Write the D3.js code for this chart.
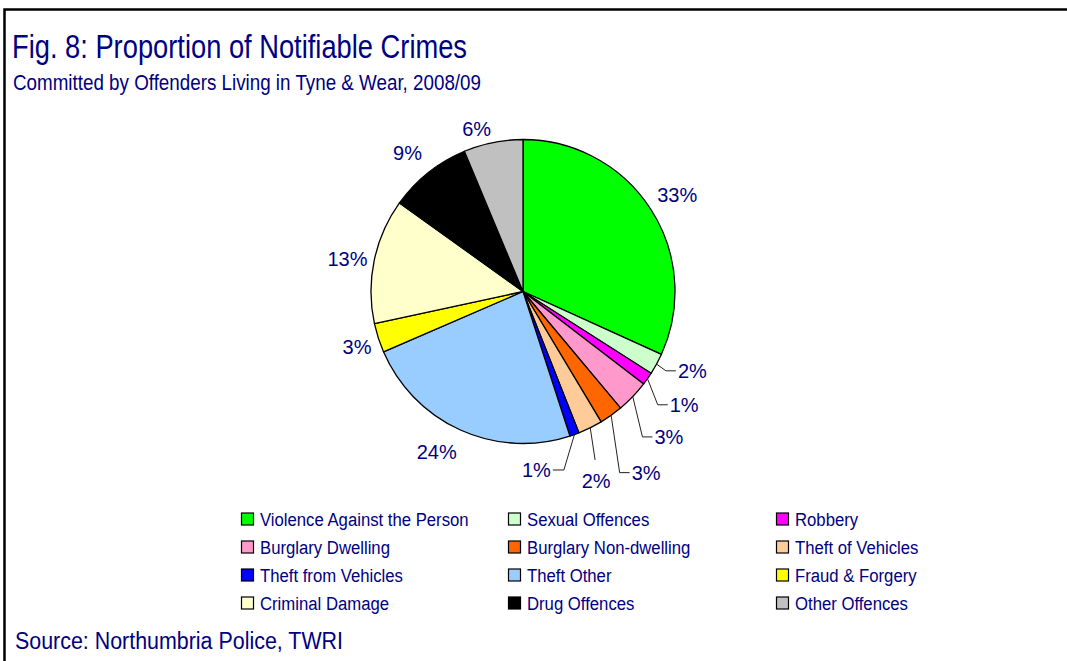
<!DOCTYPE html>
<html>
<head>
<meta charset="utf-8">
<script src="https://cdn.jsdelivr.net/npm/d3@7"></script>
<style>
  html, body { margin: 0; padding: 0; background: #fff; }
  svg { display: block; }
  text { font-family: "Liberation Sans", Arial, sans-serif; fill: #000080; }
</style>
</head>
<body>
<svg id="chart" width="1067" height="661"></svg>
<script>
// ---- Data ----
const categories = [
  "Violence Against the Person", "Sexual Offences", "Robbery",
  "Burglary Dwelling", "Burglary Non-dwelling", "Theft of Vehicles",
  "Theft from Vehicles", "Theft Other", "Fraud & Forgery",
  "Criminal Damage", "Drug Offences", "Other Offences"
];
// share of slice (%) as drawn
const values = [31.8, 2.25, 1.36, 3.5, 2.5, 2.6, 1.0, 23.5, 3.1, 13.3, 8.8, 6.3];
// printed data labels
const valueLabels = ["33%", "2%", "1%", "3%", "3%", "2%", "1%", "24%", "3%", "13%", "9%", "6%"];
const colors = [
  "#00FF00", "#CCFFCC", "#FF00FF", "#FF99CC", "#FF6600", "#FFCC99",
  "#0000FF", "#99CCFF", "#FFFF00", "#FFFFCC", "#000000", "#C0C0C0"
];
const title = "Fig. 8: Proportion of Notifiable Crimes";
const subtitle = "Committed by Offenders Living in Tyne & Wear, 2008/09";
const source = "Source: Northumbria Police, TWRI";

// ---- Layout (label placement in polar terms: angle deg from 12 o'clock, radius px; leader style) ----
const labelAngle  = [57.9, 115.1, 125.1, 134.9, 145.8, 158.9, 175.7, 208.3, 251.5, 280.5, 320.2, 344.1];
const labelRadius = [182, 187, 197, 206, 219, 203, 179, 182, 175, 178.5, 180.5, 169];
const leaderType  = [null, "right", "right", "right", "right", "below", "left", null, null, null, null, null];

const svg = d3.select("#chart");
const W = 1067, H = 661;

// frame
svg.append("path")
  .attr("d", `M4.5,${H + 5} L4.5,9.5 L${W + 5},9.5`)
  .attr("fill", "none").attr("stroke", "#000").attr("stroke-width", 2.5);

// titles
svg.append("text").attr("x", 12).attr("y", 58).attr("font-size", 33.5)
  .attr("textLength", 455).attr("lengthAdjust", "spacingAndGlyphs").text(title);
svg.append("text").attr("x", 13).attr("y", 89.5).attr("font-size", 22)
  .attr("textLength", 468).attr("lengthAdjust", "spacingAndGlyphs").text(subtitle);
svg.append("text").attr("x", 15).attr("y", 649).attr("font-size", 23)
  .attr("textLength", 328).attr("lengthAdjust", "spacingAndGlyphs").text(source);

// pie
const cx = 523, cy = 291.5, R = 152;
const g = svg.append("g").attr("transform", `translate(${cx},${cy})`);
const pie = d3.pie().sort(null).value(d => d.v);
const data = values.map((v, i) => ({ v, i }));
const arcs = pie(data);
const arc = d3.arc().innerRadius(0).outerRadius(R);

g.selectAll("path.slice").data(arcs).join("path")
  .attr("class", "slice")
  .attr("d", arc)
  .attr("fill", d => colors[d.data.i])
  .attr("stroke", "#000").attr("stroke-width", 1.3).attr("stroke-linejoin", "round");

// labels
const rad = a => a * Math.PI / 180;
arcs.forEach(d => {
  const i = d.data.i;
  const [lx, ly] = d3.pointRadial(rad(labelAngle[i]), labelRadius[i]);
  const t = g.append("text")
    .attr("x", lx).attr("y", ly).attr("dy", "0.36em")
    .attr("text-anchor", "middle").attr("font-size", 20)
    .attr("fill", "#14148a")
    .text(valueLabels[i]);
  const type = leaderType[i];
  if (type) {
    const hw = t.node().getComputedTextLength() / 2;
    const mid = (d.startAngle + d.endAngle) / 2;
    const [sx, sy] = d3.pointRadial(mid, R);
    let pts;
    if (type === "right") {
      const ex = lx - hw - 2;
      pts = [[sx, sy], [ex - 10, ly], [ex, ly]];
    } else if (type === "left") {
      const ex = lx + hw + 2;
      pts = [[sx, sy], [ex + 11, ly], [ex, ly]];
    } else {
      pts = [[sx, sy], [lx - 1, ly - 21]];
    }
    g.append("path")
      .attr("d", d3.line()(pts))
      .attr("fill", "none").attr("stroke", "#222").attr("stroke-width", 1);
  }
});

// legend
const legCols = [241, 508, 776];
const legRows = [519, 547, 575, 603];
const leg = svg.append("g");
categories.forEach((c, i) => {
  const col = i % 3, row = Math.floor(i / 3);
  const x = legCols[col], y = legRows[row];
  leg.append("rect").attr("x", x + 0.5).attr("y", y - 6).attr("width", 12).attr("height", 12)
    .attr("fill", colors[i]).attr("stroke", "#000").attr("stroke-width", 1.2);
  leg.append("text")
    .attr("transform", `translate(${x + 19},${y}) scale(0.88,1)`)
    .attr("dy", "0.36em").attr("font-size", 19).text(c);
});
</script>
</body>
</html>
